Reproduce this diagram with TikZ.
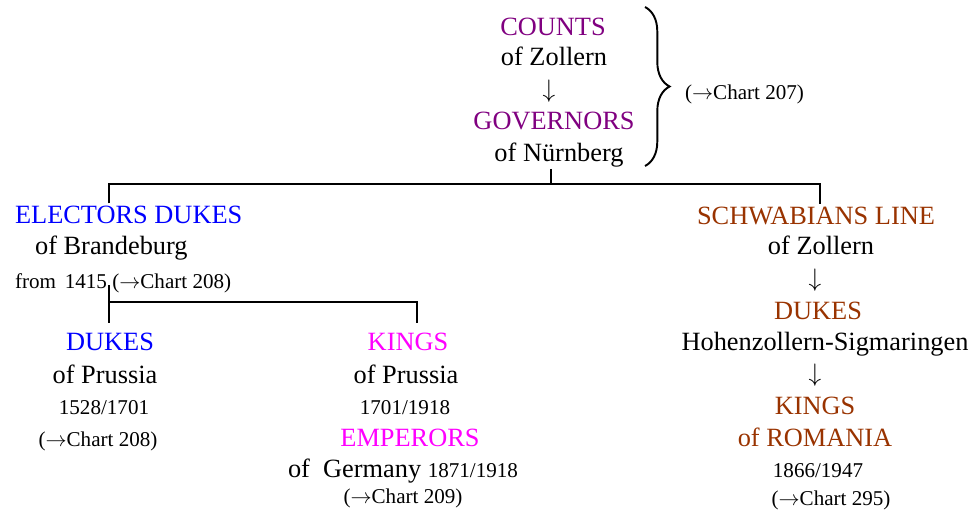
\documentclass[tikz,border=0pt]{standalone}
\usepackage{fontspec}
\setmainfont{Liberation Serif}
\usetikzlibrary{decorations.pathreplacing}
\definecolor{counts}{RGB}{128,0,128}
\definecolor{electors}{RGB}{0,0,255}
\definecolor{kings}{RGB}{255,0,255}
\definecolor{schwab}{RGB}{153,51,0}
\newcommand{\ra}{$\rightarrow$}
\newcommand{\da}{$\downarrow$}
\tikzset{
  big/.style={font=\fontsize{15}{18}\selectfont, inner sep=1pt, anchor=base},
  small/.style={font=\fontsize{12}{14}\selectfont, inner sep=1pt, anchor=base},
  tree/.style={line width=1.1pt},
}
\begin{document}
\begin{tikzpicture}[x=0.02cm, y=-0.02cm]
	\useasboundingbox (0,0) rectangle (972,514);
	
	% counts and governors
	\node[big, color=counts] (counts) at (553,35) {COUNTS};
	\node[big] (zollern) at (554,65) {of Zollern};
	\node[big] (arr1) at (549,97) {\da};
	\node[big, color=counts] (governors) at (554,129) {GOVERNORS};
	\node[big] (nurnberg) at (559,161) {of Nürnberg};
	\draw[tree, decorate, decoration={brace, amplitude=14pt}] (645,7) -- (645,166);
	\node[small, anchor=base west] (chart207) at (683,99) {(\ra Chart 207)};
	
	% electors dukes
	\node[big, anchor=base west, color=electors] (electors) at (13,223) {ELECTORS DUKES};
	\node[big, anchor=base west] (brandeburg) at (33,254) {of Brandeburg};
	\node[small, anchor=base west] (from) at (13,288) {from\, 1415 (\ra Chart 208)};
	
	% dukes of prussia
	\node[big, color=electors] (dukes) at (110,350) {DUKES};
	\node[big] (prussiaA) at (105,383) {of Prussia};
	\node[small] (yearsA) at (104,414) {1528/1701};
	\node[small] (chart208) at (98,446) {(\ra Chart 208)};
	
	% kings of prussia
	\node[big, color=kings] (kings) at (408,350) {KINGS};
	\node[big] (prussiaB) at (406,383) {of Prussia};
	\node[small] (yearsB) at (405,414) {1701/1918};
	\node[big, color=kings] (emperors) at (410,446) {EMPERORS};
	\node[big] (germany) at (403,477) {of~~Germany {\fontsize{12}{14}\selectfont 1871/1918}};
	\node[small] (chart209) at (403,503) {(\ra Chart 209)};
	
	% schwabians line
	\node[big, color=schwab] (schwab) at (816,224) {SCHWABIANS LINE};
	\node[big] (zollernB) at (821,254) {of Zollern};
	\node[big] (arr2) at (815,286) {\da};
	\node[big, color=schwab] (dukesB) at (818,319) {DUKES};
	\node[big] (sigmaringen) at (825,350) {Hohenzollern-Sigmaringen};
	\node[big] (arr3) at (815,381) {\da};
	\node[big, color=schwab] (kingsB) at (815,414) {KINGS};
	\node[big, color=schwab] (romania) at (815,446) {of ROMANIA};
	\node[small] (yearsC) at (818,477) {1866/1947};
	\node[small] (chart295) at (831,505) {(\ra Chart 295)};
	
	% tree lines
	\coordinate (jtop) at (551,184);
	\coordinate (jleft) at (109,184);
	\coordinate (jright) at (820,184);
	\coordinate (jmid) at (109,302);
	\coordinate (jkings) at (417,302);
	\draw[tree] (jtop |- nurnberg.south) -- (jtop);
	\draw[tree] (jleft |- electors.north) -- (jleft) -- (jright) -- (jright |- schwab.north);
	\draw[tree] ([yshift=1.7pt]jmid |- from.base) -- ([yshift=4.5pt]jmid |- dukes.north);
	\draw[tree] (jmid) -- (jkings) -- ([yshift=4.5pt]jkings |- kings.north);
\end{tikzpicture}
\end{document}
